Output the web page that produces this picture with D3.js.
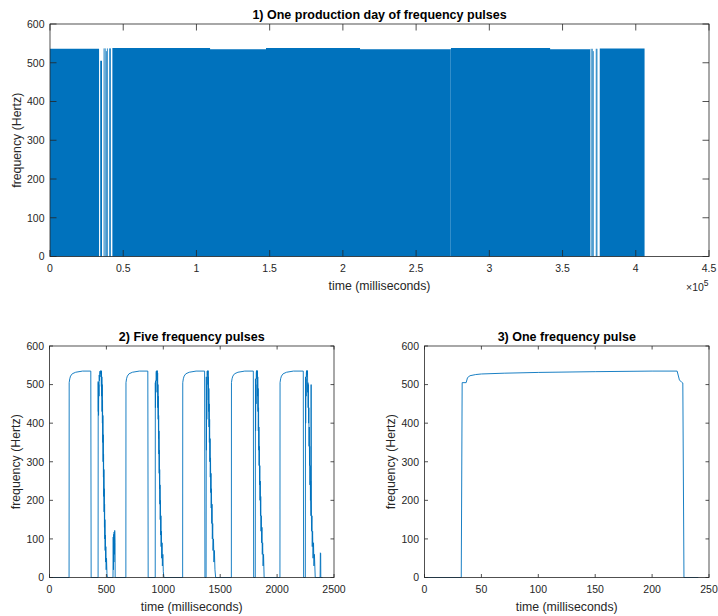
<!DOCTYPE html>
<html>
<head>
<meta charset="utf-8">
<script src="https://cdn.jsdelivr.net/npm/d3@7"></script>
<style>
  body { margin: 0; background: #fff; }
  text { font-family: "Liberation Sans", Arial, Helvetica, sans-serif; }
</style>
</head>
<body>
<svg id="chart" width="718" height="616"></svg>
<script>
  'use strict';

  const BLUE = '#0072BD';
  const AXIS = '#262626';

  // 1) one production day: dense pulse trains [startMs, endMs, peakHz]
  const dayBlocks = [
    [0, 33500, 536],
    [34300, 35500, 505],
    [42600, 109300, 538],
    [109300, 147500, 535],
    [147500, 211700, 538],
    [211700, 273200, 535],
    [273800, 341500, 538],
    [341500, 368800, 535],
    [375400, 406000, 537]
  ];
  // isolated pulses inside the sparse stretches [ms, peakHz]
  const daySparse = [
    [36900, 537], [37700, 537], [38500, 530], [39200, 537],
    [40700, 537], [41300, 537],
    [273500, 535],
    [369500, 536], [370300, 536], [371000, 530], [373000, 536], [373500, 536]
  ];
  const dayXTicks = [0, 50000, 100000, 150000, 200000, 250000, 300000, 350000, 400000, 450000];
  const freqTicks = [0, 100, 200, 300, 400, 500, 600];

  // 2) five frequency pulses [ms, Hz]
  const fivePulses = [
    [0, 0], [172, 0], [173, 505], [178, 515], [185, 522], [200, 528], [230, 532], [290, 535], [363, 535], [366, 0],
    [427, 0], [428, 508], [429, 430], [430, 505], [431, 420], [433, 500], [435, 470], [437, 525], [439, 510],
    [441, 530], [444, 535], [447, 528], [450, 536], [452, 520], [454, 536], [456, 495], [457, 535], [459, 470],
    [460, 520], [462, 430], [463, 500], [465, 400], [466, 460], [468, 350], [469, 420], [471, 300], [472, 370],
    [474, 260], [475, 320], [477, 210], [478, 280], [480, 170], [481, 230], [483, 130], [484, 190], [486, 100],
    [487, 150], [489, 70], [491, 110], [493, 40], [495, 80], [498, 20], [501, 50], [505, 10], [509, 0],
    [558, 0], [560, 105], [562, 20], [564, 112], [566, 40], [568, 118], [571, 60], [573, 122], [576, 90], [577, 0],
    [671, 0], [672, 505], [677, 515], [684, 522], [699, 528], [729, 532], [789, 535], [864, 535], [867, 0],
    [929, 0], [930, 505], [931, 440], [933, 510], [935, 480], [937, 530], [939, 535], [941, 510], [943, 536],
    [945, 525], [947, 536], [949, 480], [950, 530], [952, 440], [953, 500], [955, 410], [956, 470], [958, 360],
    [959, 420], [961, 320], [962, 380], [964, 270], [965, 330], [967, 230], [968, 280], [970, 190], [971, 240],
    [973, 150], [975, 200], [977, 110], [979, 160], [981, 80], [983, 120], [986, 50], [989, 90], [992, 30],
    [996, 60], [1000, 15], [1006, 0],
    [1170, 0], [1171, 505], [1176, 515], [1183, 522], [1198, 528], [1228, 532], [1288, 535], [1363, 535], [1366, 0],
    [1376, 0], [1378, 520], [1379, 330], [1381, 500], [1382, 410], [1384, 520], [1386, 535], [1388, 525],
    [1390, 536], [1392, 500], [1394, 536], [1396, 460], [1397, 520], [1399, 430], [1400, 490], [1402, 390],
    [1403, 450], [1405, 350], [1407, 410], [1409, 300], [1411, 360], [1413, 260], [1415, 310], [1417, 220],
    [1419, 270], [1421, 180], [1423, 230], [1426, 140], [1428, 190], [1431, 100], [1434, 140], [1437, 70],
    [1441, 100], [1445, 40], [1449, 70], [1454, 20], [1460, 0],
    [1598, 0], [1599, 505], [1604, 515], [1611, 522], [1626, 528], [1656, 532], [1716, 535], [1791, 535], [1794, 0],
    [1808, 0], [1810, 515], [1811, 380], [1813, 500], [1815, 450], [1817, 530], [1819, 536], [1821, 515],
    [1823, 536], [1825, 520], [1827, 536], [1829, 470], [1830, 520], [1832, 430], [1833, 490], [1835, 380],
    [1837, 440], [1839, 330], [1840, 390], [1842, 290], [1844, 340], [1846, 240], [1848, 290], [1850, 200],
    [1852, 250], [1854, 160], [1856, 210], [1859, 120], [1861, 160], [1864, 90], [1867, 130], [1870, 60],
    [1873, 90], [1877, 30], [1881, 60], [1886, 0],
    [2025, 0], [2026, 505], [2031, 515], [2038, 522], [2053, 528], [2083, 532], [2143, 535], [2230, 535], [2233, 0],
    [2248, 0], [2250, 520], [2251, 400], [2253, 515], [2255, 470], [2257, 530], [2259, 536], [2261, 520],
    [2263, 536], [2265, 525], [2267, 536], [2269, 480], [2271, 505], [2273, 440], [2275, 500], [2277, 400],
    [2279, 440], [2281, 340], [2283, 390], [2285, 290], [2287, 340], [2289, 240], [2291, 290], [2293, 200],
    [2295, 250], [2298, 160], [2299, 500], [2300, 200], [2303, 120], [2306, 160], [2309, 80], [2312, 120],
    [2316, 50], [2320, 90], [2324, 30], [2328, 60], [2335, 0],
    [2378, 0], [2380, 64], [2383, 62], [2384, 0], [2400, 0]
  ];
  const fiveXTicks = [0, 500, 1000, 1500, 2000, 2500];

  // 3) one frequency pulse [ms, Hz]
  const onePulse = [
    [0, 0], [32.3, 0], [33.1, 505], [36.6, 505], [37.8, 518], [40, 523], [45, 526], [50, 527.5],
    [70, 529.5], [100, 531.5], [150, 533.5], [200, 535], [222, 535], [224, 512], [226, 506],
    [227, 504], [228, 0], [240.6, 0]
  ];
  const oneXTicks = [0, 50, 100, 150, 200, 250];

  const svg = d3.select('#chart');

  // one framed axes box with inward ticks on all four sides, MATLAB style
  function makePanel(opt) {
    const x = d3.scaleLinear().domain(opt.xDomain).range([opt.left, opt.right]);
    const y = d3.scaleLinear().domain([0, 600]).range([opt.bottom, opt.top]);
    const g = svg.append('g');
    const plot = g.append('g');
    const tl = opt.tickLen;

    const frame = g.append('g').attr('stroke', AXIS).attr('stroke-width', 0.8).attr('fill', 'none');
    frame.append('rect')
      .attr('x', opt.left).attr('y', opt.top)
      .attr('width', opt.right - opt.left).attr('height', opt.bottom - opt.top);

    frame.selectAll('.xt').data(opt.xTicks).enter().append('path')
      .attr('d', d => `M${x(d)},${opt.bottom}v${-tl}M${x(d)},${opt.top}v${tl}`);
    frame.selectAll('.yt').data(freqTicks).enter().append('path')
      .attr('d', d => `M${opt.left},${y(d)}h${tl}M${opt.right},${y(d)}h${-tl}`);

    g.append('g').selectAll('text').data(opt.xTicks).enter().append('text')
      .attr('x', d => x(d)).attr('y', opt.bottom + 15.5)
      .attr('text-anchor', 'middle').attr('font-size', 10.5).attr('fill', AXIS)
      .text(opt.xFormat);

    g.append('g').selectAll('text').data(freqTicks).enter().append('text')
      .attr('x', opt.left - 5.5).attr('y', d => y(d) + 3.8)
      .attr('text-anchor', 'end').attr('font-size', 10.5).attr('fill', AXIS)
      .text(d => d);

    g.append('text')
      .attr('x', (opt.left + opt.right) / 2).attr('y', opt.bottom + 33.5)
      .attr('text-anchor', 'middle').attr('font-size', 12.3).attr('fill', AXIS)
      .text('time (milliseconds)');

    g.append('text')
      .attr('transform', `translate(${opt.left - 29.5},${(opt.top + opt.bottom) / 2}) rotate(-90)`)
      .attr('text-anchor', 'middle').attr('font-size', 12.3).attr('fill', AXIS)
      .text('frequency (Hertz)');

    g.append('text')
      .attr('x', (opt.left + opt.right) / 2).attr('y', opt.top - 5)
      .attr('text-anchor', 'middle').attr('font-size', 12.5).attr('font-weight', 'bold').attr('fill', '#000')
      .text(opt.title);

    return { g, plot, x, y };
  }

  // ---- panel 1
  const p1 = makePanel({
    left: 50, right: 709, top: 24, bottom: 256.5, tickLen: 6.5,
    xDomain: [0, 450000], xTicks: dayXTicks,
    xFormat: d => d3.format('~g')(d / 1e5),
    title: '1) One production day of frequency pulses'
  });

  // outline of the dense trains as one filled area so touching blocks leave no seam
  const dayOutline = [];
  dayBlocks.forEach(b => {
    dayOutline.push([b[0], 0], [b[0], b[2]], [b[1], b[2]], [b[1], 0]);
  });

  p1.plot.append('path')
    .datum(dayOutline)
    .attr('fill', BLUE)
    .attr('d', d3.area().x(d => p1.x(d[0])).y0(p1.y(0)).y1(d => p1.y(d[1])));

  p1.plot.selectAll('line').data(daySparse).enter().append('line')
    .attr('x1', d => p1.x(d[0])).attr('x2', d => p1.x(d[0]))
    .attr('y1', p1.y(0)).attr('y2', d => p1.y(d[1]))
    .attr('stroke', BLUE).attr('stroke-width', 0.8);

  const expo = p1.g.append('text')
    .attr('x', 686).attr('y', 291)
    .attr('font-size', 10.5).attr('fill', AXIS);
  expo.append('tspan').text('\u00d710');
  expo.append('tspan').attr('dy', -5).attr('font-size', 8.5).text('5');

  // ---- panel 2
  const p2 = makePanel({
    left: 49.5, right: 334, top: 346, bottom: 577.5, tickLen: 3.5,
    xDomain: [0, 2500], xTicks: fiveXTicks, xFormat: d => d,
    title: '2) Five frequency pulses'
  });

  p2.plot.append('path')
    .datum(fivePulses)
    .attr('fill', 'none').attr('stroke', BLUE).attr('stroke-width', 0.9)
    .attr('stroke-linejoin', 'round')
    .attr('d', d3.line().x(d => p2.x(d[0])).y(d => p2.y(d[1])));

  // ---- panel 3
  const p3 = makePanel({
    left: 424.5, right: 709, top: 346, bottom: 577.5, tickLen: 3.5,
    xDomain: [0, 250], xTicks: oneXTicks, xFormat: d => d,
    title: '3) One frequency pulse'
  });

  p3.plot.append('path')
    .datum(onePulse)
    .attr('fill', 'none').attr('stroke', BLUE).attr('stroke-width', 0.9)
    .attr('stroke-linejoin', 'round')
    .attr('d', d3.line().x(d => p3.x(d[0])).y(d => p3.y(d[1])));
</script>
</body>
</html>
